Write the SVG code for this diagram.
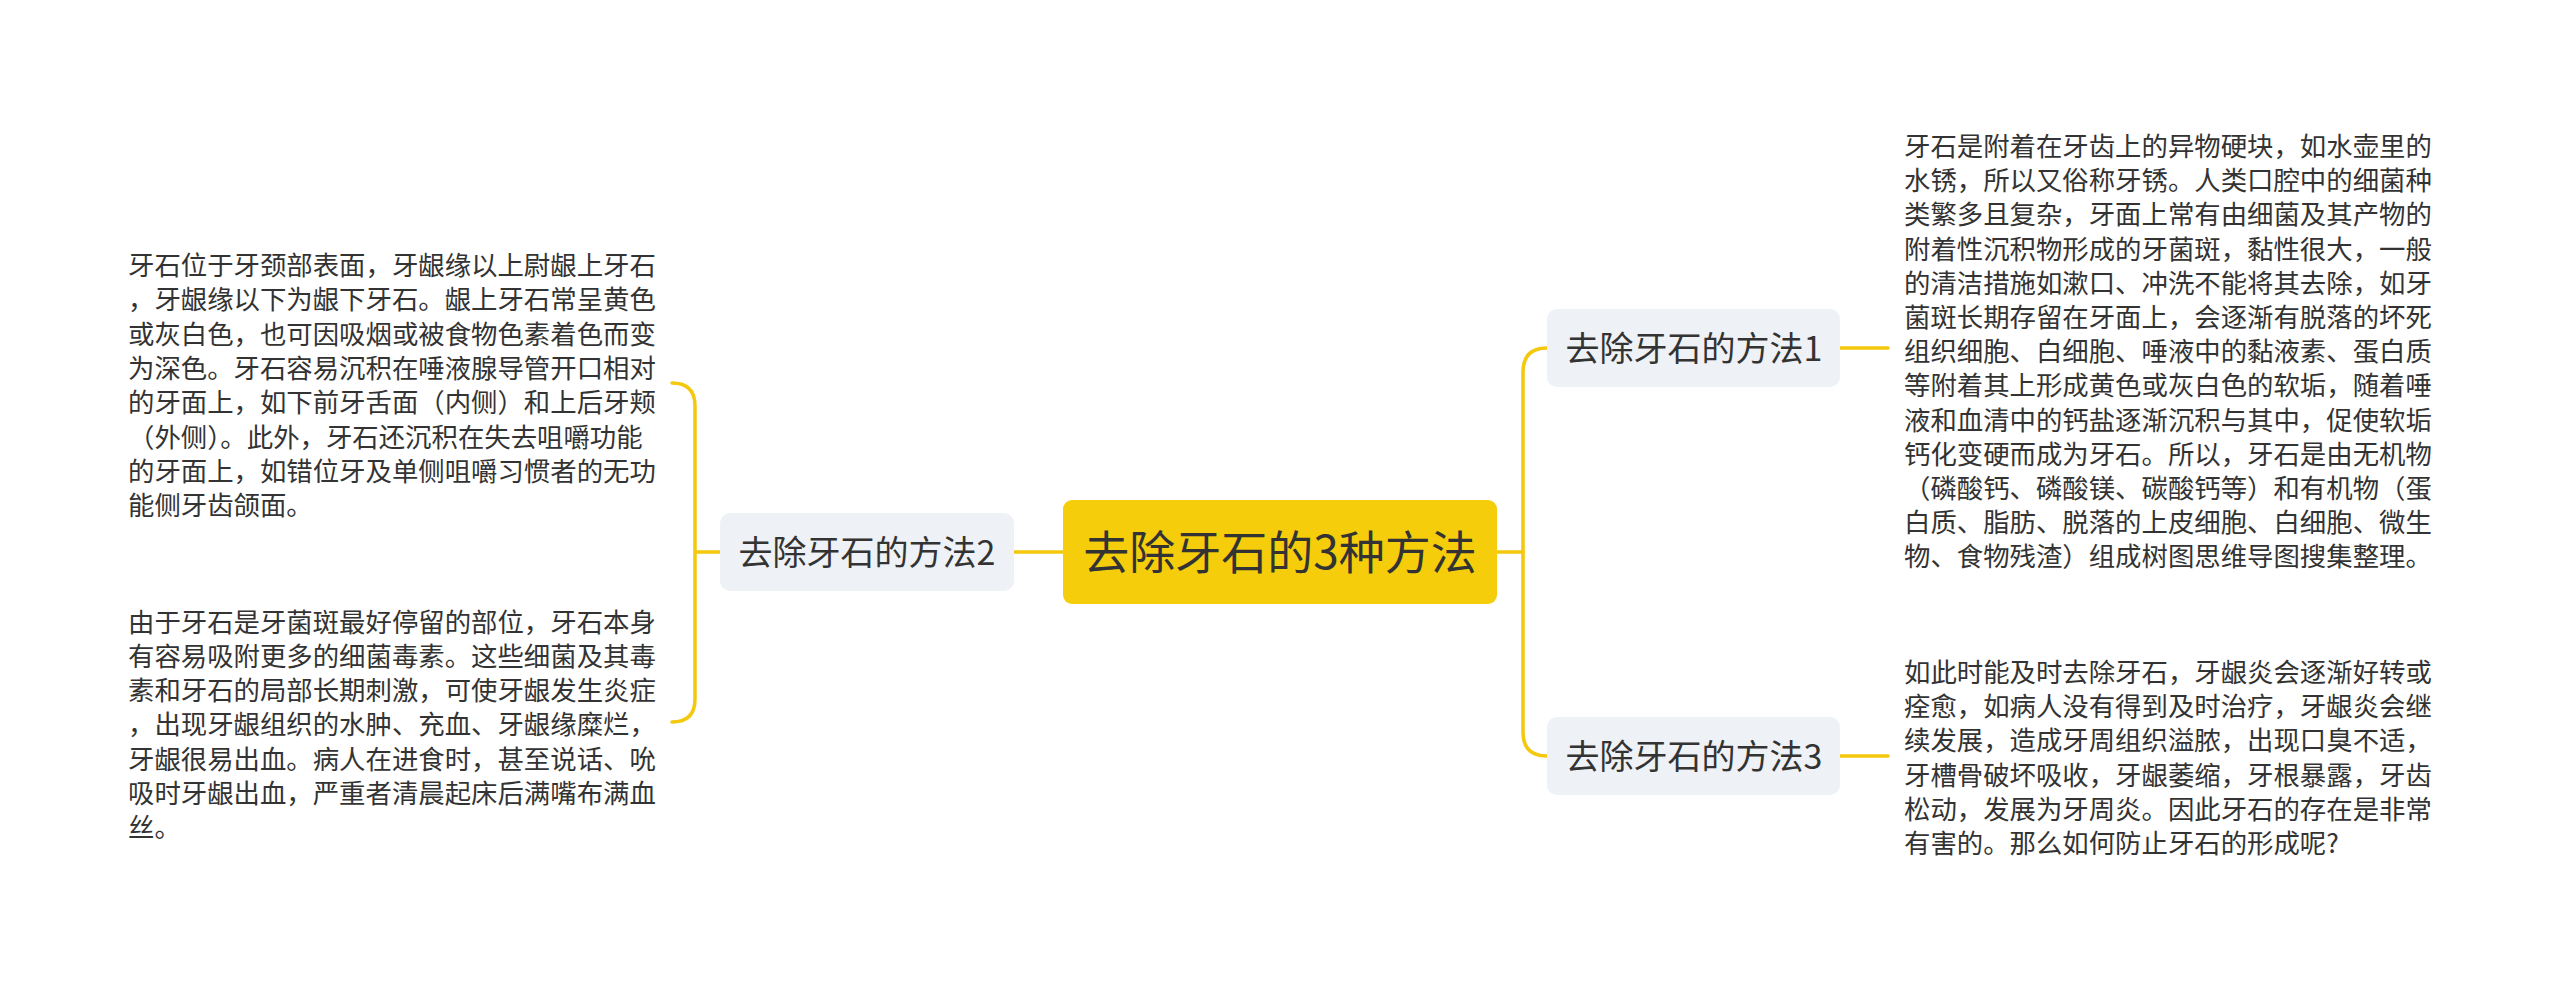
<svg xmlns="http://www.w3.org/2000/svg" width="2560" height="985" viewBox="0 0 2560 985">
<style>
.ln{fill:none;stroke:#F4C80C;stroke-width:3.5;stroke-linecap:round}
.br{fill:#EEF1F5}
.t{font-family:"Noto Sans CJK SC","Noto Sans",sans-serif;fill:#333}
.body{font-size:26.4px}
.bt{font-size:34px;text-anchor:middle}
.ct{font-size:46px;text-anchor:middle}
</style>
<rect width="2560" height="985" fill="#FFFFFF"/>
<g id="connectors">
<path class="ln" d="M1014,552 H1063"/>
<path class="ln" d="M720,552 H695"/>
<path class="ln" d="M672,383 Q695,383 695,406 V699 Q695,722 672,722"/>
<path class="ln" d="M1497,552 H1523"/>
<path class="ln" d="M1547,348 Q1523,348 1523,372 V732 Q1523,756 1547,756"/>
<path class="ln" d="M1840,348 H1888"/>
<path class="ln" d="M1840,756 H1888"/>
</g>
<g id="center">
<rect x="1063" y="500" width="434" height="104" rx="9" fill="#F5CD0B"/>
<text class="t ct" x="1280" y="569">去除牙石的3种方法</text>
</g>
<g id="method2">
<rect class="br" x="720" y="513" width="294" height="78" rx="10"/>
<text class="t bt" x="867" y="565">去除牙石的方法2</text>
</g>
<g id="method1">
<rect class="br" x="1547" y="309" width="293" height="78" rx="10"/>
<text class="t bt" x="1694" y="361">去除牙石的方法1</text>
</g>
<g id="method3">
<rect class="br" x="1547" y="717" width="293" height="78" rx="10"/>
<text class="t bt" x="1694" y="769">去除牙石的方法3</text>
</g>
<g id="text2a">
<text class="t body" x="128" y="275">牙石位于牙颈部表面，牙龈缘以上尉龈上牙石</text>
<text class="t body" x="128" y="309.3">，牙龈缘以下为龈下牙石。龈上牙石常呈黄色</text>
<text class="t body" x="128" y="343.6">或灰白色，也可因吸烟或被食物色素着色而变</text>
<text class="t body" x="128" y="377.9">为深色。牙石容易沉积在唾液腺导管开口相对</text>
<text class="t body" x="128" y="412.2">的牙面上，如下前牙舌面（内侧）和上后牙颊</text>
<text class="t body" x="128" y="446.5">（外侧）。此外，牙石还沉积在失去咀嚼功能</text>
<text class="t body" x="128" y="480.8">的牙面上，如错位牙及单侧咀嚼习惯者的无功</text>
<text class="t body" x="128" y="515.1">能侧牙齿颌面。</text>
</g>
<g id="text2b">
<text class="t body" x="128" y="631.5">由于牙石是牙菌斑最好停留的部位，牙石本身</text>
<text class="t body" x="128" y="665.8">有容易吸附更多的细菌毒素。这些细菌及其毒</text>
<text class="t body" x="128" y="700.1">素和牙石的局部长期刺激，可使牙龈发生炎症</text>
<text class="t body" x="128" y="734.4">，出现牙龈组织的水肿、充血、牙龈缘糜烂，</text>
<text class="t body" x="128" y="768.7">牙龈很易出血。病人在进食时，甚至说话、吮</text>
<text class="t body" x="128" y="803">吸时牙龈出血，严重者清晨起床后满嘴布满血</text>
<text class="t body" x="128" y="837.3">丝。</text>
</g>
<g id="text1">
<text class="t body" x="1904" y="156">牙石是附着在牙齿上的异物硬块，如水壶里的</text>
<text class="t body" x="1904" y="190.2">水锈，所以又俗称牙锈。人类口腔中的细菌种</text>
<text class="t body" x="1904" y="224.4">类繁多且复杂，牙面上常有由细菌及其产物的</text>
<text class="t body" x="1904" y="258.6">附着性沉积物形成的牙菌斑，黏性很大，一般</text>
<text class="t body" x="1904" y="292.8">的清洁措施如漱口、冲洗不能将其去除，如牙</text>
<text class="t body" x="1904" y="327">菌斑长期存留在牙面上，会逐渐有脱落的坏死</text>
<text class="t body" x="1904" y="361.2">组织细胞、白细胞、唾液中的黏液素、蛋白质</text>
<text class="t body" x="1904" y="395.4">等附着其上形成黄色或灰白色的软垢，随着唾</text>
<text class="t body" x="1904" y="429.6">液和血清中的钙盐逐渐沉积与其中，促使软垢</text>
<text class="t body" x="1904" y="463.8">钙化变硬而成为牙石。所以，牙石是由无机物</text>
<text class="t body" x="1904" y="498">（磷酸钙、磷酸镁、碳酸钙等）和有机物（蛋</text>
<text class="t body" x="1904" y="532.2">白质、脂肪、脱落的上皮细胞、白细胞、微生</text>
<text class="t body" x="1904" y="566.4">物、食物残渣）组成树图思维导图搜集整理。</text>
</g>
<g id="text3">
<text class="t body" x="1904" y="682">如此时能及时去除牙石，牙龈炎会逐渐好转或</text>
<text class="t body" x="1904" y="716.2">痊愈，如病人没有得到及时治疗，牙龈炎会继</text>
<text class="t body" x="1904" y="750.4">续发展，造成牙周组织溢脓，出现口臭不适，</text>
<text class="t body" x="1904" y="784.6">牙槽骨破坏吸收，牙龈萎缩，牙根暴露，牙齿</text>
<text class="t body" x="1904" y="818.8">松动，发展为牙周炎。因此牙石的存在是非常</text>
<text class="t body" x="1904" y="853">有害的。那么如何防止牙石的形成呢?</text>
</g>
</svg>
